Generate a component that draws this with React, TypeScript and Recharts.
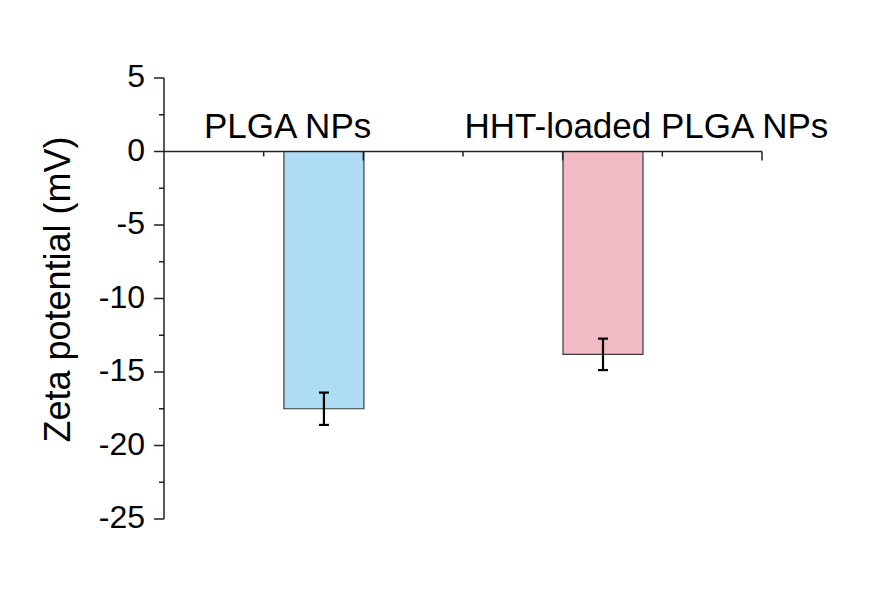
import React from "react";
import {
  BarChart,
  Bar,
  Cell,
  XAxis,
  YAxis,
  ErrorBar,
  ReferenceLine,
  ReferenceDot,
} from "recharts";

// samples
const categories = ["PLGA NPs", "HHT-loaded PLGA NPs"];
const positions = [0.8, 2.2];
const zeta = [-17.5, -13.8];
const zetaErr = [1.1, 1.07];
const barColors = ["#AEDCF4", "#F2BAC5"];

// axis ticks
const yTicks = [-25, -22.5, -20, -17.5, -15, -12.5, -10, -7.5, -5, -2.5, 0, 2.5, 5];
const xMajorTicks = [1, 2, 3];
const xMinorTicks = [0.5, 1.5, 2.5];

// where the category names sit (x in axis units, y in mV)
const labelX = [0.62, 2.42];
const labelY = 0.93;

const data = categories.map((name, i) => ({
  name,
  x: positions[i],
  zeta: zeta[i],
  err: zetaErr[i],
}));

const FONT = "'Liberation Sans', Arial, sans-serif";
const AXIS = "#222";

function YTick(props: any) {
  const { x, y, payload } = props;
  const major = payload.value % 5 === 0;
  return (
    <g>
      <line x1={x - (major ? 10 : 5)} x2={x} y1={y} y2={y} stroke={AXIS} strokeWidth={1.5} />
      {major && (
        <text x={x - 19} y={y} dy={9} textAnchor="end" fontFamily={FONT} fontSize={32} fill="#000">
          {payload.value}
        </text>
      )}
    </g>
  );
}

function xTickShape(len: number) {
  return (p: any) => (
    <line x1={p.cx} x2={p.cx} y1={p.cy} y2={p.cy + len} stroke={AXIS} strokeWidth={1.5} />
  );
}

function catLabelShape(text: string) {
  return (p: any) => (
    <text x={p.cx} y={p.cy} textAnchor="middle" fontFamily={FONT} fontSize={35} fill="#000">
      {text}
    </text>
  );
}

function YTitle(props: any) {
  const { viewBox } = props;
  const x = viewBox.x + 70;
  const y = viewBox.y + viewBox.height / 2 - 9;
  return (
    <text
      x={x}
      y={y}
      textAnchor="middle"
      transform={`rotate(-90, ${x}, ${y})`}
      fontFamily={FONT}
      fontSize={36}
      fill="#000"
    >
      Zeta potential (mV)
    </text>
  );
}

export default function App() {
  return (
    <div style={{ position: "absolute", left: 0, top: 0, width: 872, height: 601, background: "#fff" }}>
      <BarChart width={872} height={601} data={data} margin={{ top: 78, right: 110, bottom: 82, left: 0 }}>
        <XAxis dataKey="x" type="number" domain={[0, 3]} hide />
        <YAxis
          type="number"
          domain={[-25, 5]}
          ticks={yTicks}
          interval={0}
          width={164}
          tickSize={0}
          tickMargin={0}
          tickLine={false}
          tick={<YTick />}
          axisLine={{ stroke: AXIS, strokeWidth: 1.5 }}
          label={{ content: <YTitle /> }}
        />
        <ReferenceLine y={0} stroke={AXIS} strokeWidth={1.5} />
        {xMajorTicks.map((t) => (
          <ReferenceDot key={"M" + t} x={t} y={0} shape={xTickShape(9)} />
        ))}
        {xMinorTicks.map((t) => (
          <ReferenceDot key={"m" + t} x={t} y={0} shape={xTickShape(5)} />
        ))}
        {categories.map((c, i) => (
          <ReferenceDot key={c} x={labelX[i]} y={labelY} shape={catLabelShape(c)} />
        ))}
        <Bar dataKey="zeta" barSize={80} stroke="#3a3a3a" strokeWidth={1.2} isAnimationActive={false}>
          {data.map((d, i) => (
            <Cell key={d.name} fill={barColors[i]} />
          ))}
          <ErrorBar dataKey="err" width={5} stroke="#000" strokeWidth={2.2} direction="y" />
        </Bar>
      </BarChart>
    </div>
  );
}
